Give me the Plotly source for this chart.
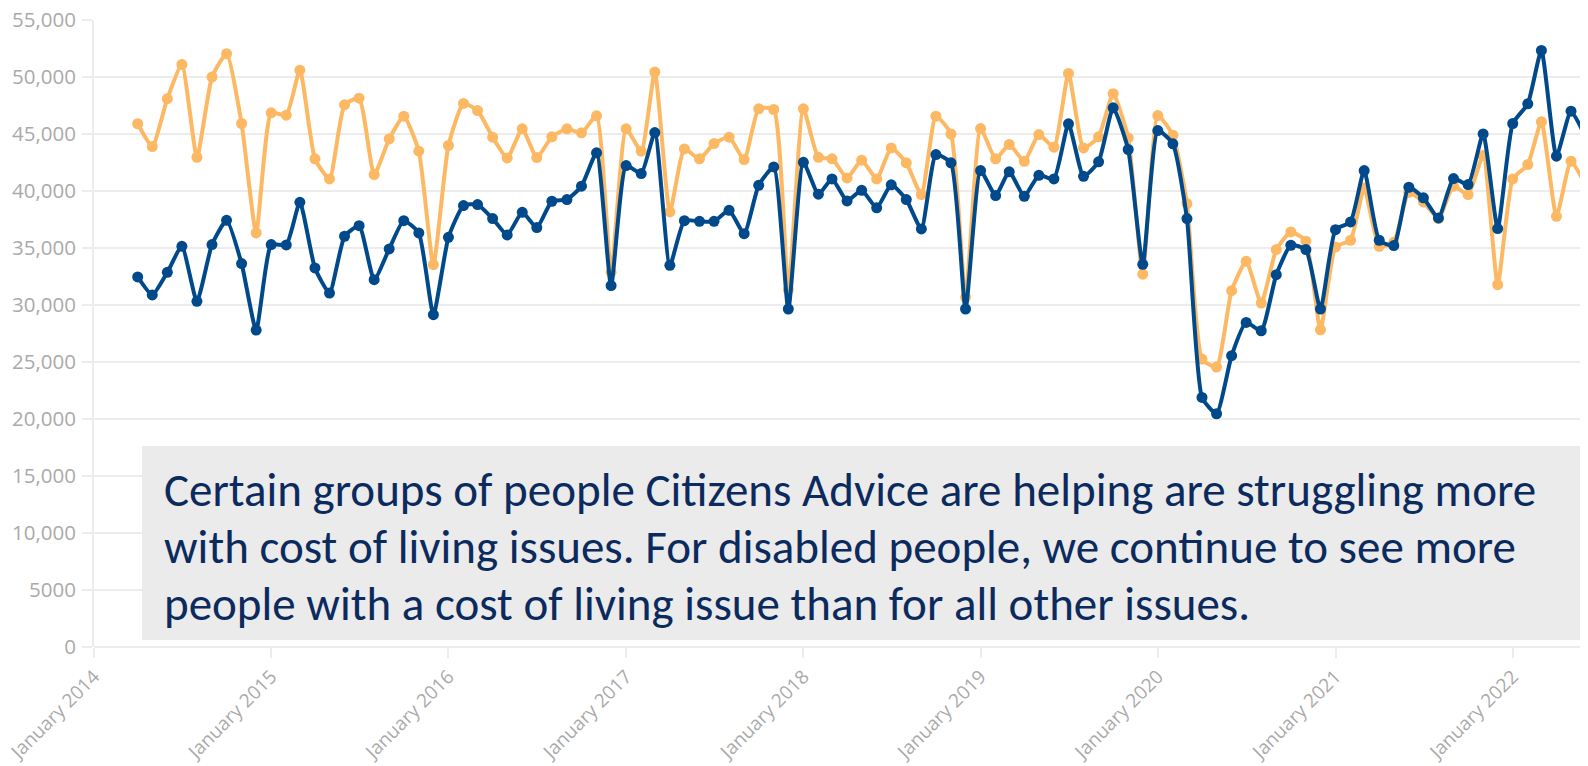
import pandas as pd
import plotly.graph_objects as go

# Monthly values, April 2014 - June 2022
months = pd.date_range("2014-04-01", periods=99, freq="MS")

orange_vals = [
    # 2014 Apr-Dec
    45900, 43900, 48100, 51100, 42960, 50000, 52040, 45920, 36320,
    # 2015
    46860, 46650, 50600, 42820, 41060, 47560, 48140, 41440, 44570, 46560, 43490, 33540,
    # 2016
    43990, 47680, 47060, 44720, 42900, 45450, 42930, 44750, 45450, 45100, 46590, 32870,
    # 2017
    45450, 43490, 50430, 38160, 43690, 42820, 44160, 44720, 42760, 47210, 47150, 31340,
    # 2018
    47210, 42950, 42820, 41150, 42700, 41060, 43780, 42470, 39690, 46560, 45000, 30670,
    # 2019
    45480, 42820, 44080, 42610, 44950, 43840, 50310, 43780, 44750, 48530, 44660, 32700,
    # 2020
    46620, 44890, 38900, 25260, 24560, 31260, 33830, 30170, 34860, 36410, 35600, 27830,
    # 2021
    35090, 35680, 40270, 35150, 35500, 39890, 39040, 37580, 40420, 39690, 43110, 31780,
    # 2022 Jan-Jun
    41060, 42320, 46070, 37780, 42610, 40420,
]

blue_vals = [
    # 2014 Apr-Dec
    32460, 30880, 32870, 35150, 30320, 35300, 37430, 33630, 27800,
    # 2015
    35300, 35270, 39010, 33250, 31050, 36030, 36960, 32220, 34920, 37400, 36320, 29150,
    # 2016
    35940, 38720, 38810, 37580, 36150, 38130, 36790, 39100, 39250, 40420, 43350, 31700,
    # 2017
    42230, 41530, 45130, 33480, 37400, 37340, 37340, 38310, 36260, 40500, 42110, 29650,
    # 2018
    42520, 39720, 41060, 39130, 40060, 38520, 40540, 39250, 36670, 43200, 42470, 29650,
    # 2019
    41790, 39600, 41680, 39540, 41380, 41060, 45890, 41290, 42560, 47300, 43640, 33570,
    # 2020
    45300, 44140, 37580, 21890, 20460, 25550, 28470, 27740, 32660, 35240, 34860, 29650,
    # 2021
    36610, 37290, 41790, 35680, 35210, 40330, 39400, 37640, 41090, 40560, 45010, 36700,
    # 2022 Jan-Jun
    45920, 47650, 52330, 43050, 47000, 44660,
]

tick_dates = pd.date_range("2014-01-01", "2022-01-01", freq="YS")
tick_labels = ["January " + str(d.year) for d in tick_dates]
y_ticks = list(range(0, 55001, 5000))

text_lines = [
    "Certain groups of people Citizens Advice are helping are struggling more",
    "with cost of living issues. For disabled people, we continue to see more",
    "people with a cost of living issue than for all other issues.",
]

BLUE = "#00498A"
ORANGE = "#FDB863"
GRID = "#ececec"
TICKFONT = "#aaaaaa"

# the page body has an 8px margin, so the figure is offset by 8px
OFF = 8
W, H = 1588 - OFF, 766 - OFF
ML, MT, MB, MR = 94 - OFF, 20 - OFF, 119, 0

fig = go.Figure()
fig.add_trace(go.Scatter(
    x=months, y=orange_vals, mode="lines+markers",
    line=dict(color=ORANGE, width=4, shape="spline", smoothing=0.5),
    marker=dict(color=ORANGE, size=11), showlegend=False,
))
fig.add_trace(go.Scatter(
    x=months, y=blue_vals, mode="lines+markers",
    line=dict(color=BLUE, width=4, shape="spline", smoothing=0.5),
    marker=dict(color=BLUE, size=11), showlegend=False,
))

fig.update_layout(
    width=W, height=H,
    margin=dict(l=ML, r=MR, t=MT, b=MB),
    paper_bgcolor="white", plot_bgcolor="white",
    font=dict(family="Open Sans, sans-serif"),
    xaxis=dict(
        range=["2014-01-01", "2022-06-05"], automargin=False,
        tickvals=tick_dates, ticktext=tick_labels, tickangle=-45,
        tickfont=dict(size=19, color=TICKFONT), ticklabeloverflow="allow",
        ticks="outside", ticklen=10, tickcolor=GRID, tickwidth=2,
        showgrid=False, showline=False, zeroline=False,
    ),
    yaxis=dict(
        range=[0, 55000], tickvals=y_ticks, exponentformat="none", automargin=False,
        tickfont=dict(size=20.5, color=TICKFONT), ticklabeloverflow="allow",
        ticks="outside", ticklen=10, tickcolor=GRID, tickwidth=2,
        showgrid=True, gridcolor=GRID, gridwidth=2,
        showline=True, linecolor=GRID, linewidth=2,
        zeroline=True, zerolinecolor=GRID, zerolinewidth=2,
        ticklabelstandoff=2,
    ),
)

# grey text box (positions given in page pixels)
plot_h = H - MT - MB
plot_w = W - ML - MR
def px_to_paper_y(py):
    return (OFF + H - MB - py) / plot_h
def px_to_paper_x(px):
    return (px - OFF - ML) / plot_w

fig.add_shape(type="rect", xref="paper", yref="paper",
              x0=px_to_paper_x(142), x1=1.02,
              y0=px_to_paper_y(640), y1=px_to_paper_y(446),
              fillcolor="#ebebeb", line=dict(width=0), layer="above")

line_centers = [490, 547, 604]
for txt, cy in zip(text_lines, line_centers):
    fig.add_annotation(
        text=txt, xref="paper", yref="paper",
        x=px_to_paper_x(162), y=px_to_paper_y(cy),
        xanchor="left", yanchor="middle", showarrow=False,
        font=dict(family="Carlito, Calibri, Lato, sans-serif", size=47, color="#0B2A5E"),
    )

fig.write_html("out.html")
